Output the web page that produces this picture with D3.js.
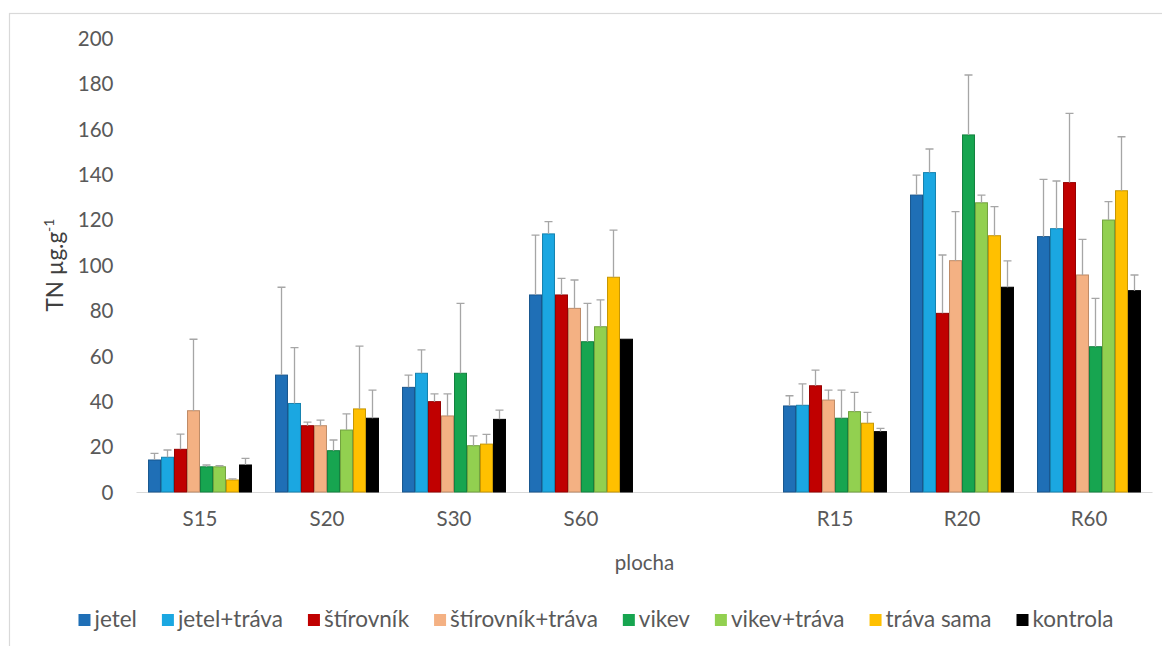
<!DOCTYPE html>
<html>
<head>
<meta charset="utf-8">
<script src="https://cdn.jsdelivr.net/npm/d3@7"></script>
<style>
  html, body { margin: 0; padding: 0; background: #ffffff; }
  svg { display: block; font-family: Lato, "Open Sans", "Liberation Sans", sans-serif; }
</style>
</head>
<body>
<svg id="chart" width="1162" height="646"></svg>
<script>
// Sampling sites (the empty entry leaves a gap between the S and R groups)
const categories = ["S15", "S20", "S30", "S60", "", "R15", "R20", "R60"];

// Treatments
const seriesNames = ["jetel", "jetel+tráva", "štírovník", "štírovník+tráva", "vikev", "vikev+tráva", "tráva sama", "kontrola"];
const seriesColors = ["#1f6fb6", "#1ba7e1", "#c00000", "#f4b183", "#17a550", "#92d050", "#ffc000", "#000000"];

// Mean TN (µg·g⁻¹) per site, one array per treatment
const jetel          = [14.1, 51.5, 46.1,  86.8, null, 37.9, 130.8, 112.5];
const jetelTrava     = [15.3, 39.0, 52.3, 113.7, null, 38.2, 140.7, 116.0];
const stirovnik      = [18.8, 29.2, 39.8,  86.8, null, 46.8,  78.7, 136.3];
const stirovnikTrava = [35.8, 29.2, 33.5,  80.9, null, 40.5, 101.9,  95.6];
const vikev          = [11.1, 18.2, 52.3,  66.2, null, 32.5, 157.3,  64.0];
const vikevTrava     = [11.1, 27.3, 20.4,  72.8, null, 35.4, 127.4, 119.8];
const travaSama      = [ 5.3, 36.6, 21.1,  94.6, null, 30.3, 112.9, 132.7];
const kontrola       = [11.9, 32.5, 32.0,  67.3, null, 26.6,  90.2,  88.7];

// Standard deviations (upper error bars)
const jetelSd          = [ 2.9, 38.7,  5.4, 26.4, null,  4.5,  8.8, 25.2];
const jetelTravaSd     = [ 3.2, 24.6, 10.3,  5.4, null,  9.4, 10.4, 21.0];
const stirovnikSd      = [ 6.7,  1.6,  3.4,  7.3, null,  6.9, 25.7, 30.5];
const stirovnikTravaSd = [31.5,  2.5,  9.7, 12.5, null,  4.4, 21.6, 15.7];
const vikevSd          = [ 0.8,  4.7, 30.8, 16.9, null, 12.4, 26.4, 21.3];
const vikevTravaSd     = [ 0.5,  7.1,  4.3, 11.8, null,  8.5,  3.4,  8.1];
const travaSamaSd      = [ 0.5, 27.7,  4.3, 20.8, null,  4.8, 12.8, 23.8];
const kontrolaSd       = [ 2.9, 12.4,  4.1,  0.0, null,  1.4, 11.6,  6.9];

const yTicks = [0, 20, 40, 60, 80, 100, 120, 140, 160, 180, 200];

const seriesValues = [jetel, jetelTrava, stirovnik, stirovnikTrava, vikev, vikevTrava, travaSama, kontrola];
const seriesErrors = [jetelSd, jetelTravaSd, stirovnikSd, stirovnikTravaSd, vikevSd, vikevTravaSd, travaSamaSd, kontrolaSd];

const svg = d3.select("#chart");
const W = 1162, H = 646;
const plot = { left: 136.5, right: 1152.5, top: 38, bottom: 492 };

// chart area frame
svg.append("rect")
  .attr("x", 9.5).attr("y", 13.5)
  .attr("width", W + 20).attr("height", H + 20)
  .attr("fill", "#ffffff").attr("stroke", "#d9d9d9").attr("stroke-width", 1.2);

const x0 = d3.scaleBand().domain(categories)
  .range([plot.left, plot.right]).paddingInner(0.173).paddingOuter(0.0865);
const x1 = d3.scaleBand().domain(seriesNames)
  .range([0, x0.bandwidth()]).padding(0.08);
const y = d3.scaleLinear().domain([0, 200]).range([plot.bottom, plot.top]);
const color = d3.scaleOrdinal().domain(seriesNames).range(seriesColors);

// y axis: labels only
const yAxis = d3.axisLeft(y).tickValues(yTicks).tickSize(0).tickPadding(0);
const gy = svg.append("g").attr("transform", `translate(${plot.left - 23},0)`).call(yAxis);
gy.select(".domain").remove();
gy.selectAll("text").attr("font-size", 20.5).attr("fill", "#595959")
  .attr("font-family", "Lato, 'Open Sans', sans-serif").attr("dy", "0.36em");

// x axis baseline and category labels
const xAxis = d3.axisBottom(x0).tickSize(0).tickPadding(0);
const gx = svg.append("g").attr("transform", `translate(0,${plot.bottom})`).call(xAxis);
gx.select(".domain").attr("stroke", "#d9d9d9").attr("stroke-width", 1.2)
  .attr("d", `M${plot.left},0.5H${plot.right}`);
gx.selectAll("text").attr("font-size", 20.5).attr("fill", "#595959")
  .attr("font-family", "Lato, 'Open Sans', sans-serif").attr("y", 34).attr("dy", 0);

// bars
const rows = [];
seriesNames.forEach((name, si) => {
  categories.forEach((cat, ci) => {
    const v = seriesValues[si][ci];
    if (v == null) return;
    rows.push({ name, cat, value: v, sd: seriesErrors[si][ci] });
  });
});

const barG = svg.append("g");
barG.selectAll("rect").data(rows).join("rect")
  .attr("x", d => x0(d.cat) + x1(d.name))
  .attr("y", d => y(d.value))
  .attr("width", x1.bandwidth())
  .attr("height", d => y(0) - y(d.value))
  .attr("fill", d => color(d.name))
  .attr("stroke", d => d3.color(color(d.name)).darker(0.7))
  .attr("stroke-width", 1);

// upper error bars
const errG = svg.append("g").attr("stroke", "#a6a6a6").attr("stroke-width", 1.3).attr("fill", "none");
const errRows = rows.filter(d => d.sd > 0);
errG.selectAll("path").data(errRows).join("path")
  .attr("d", d => {
    const cx = x0(d.cat) + x1(d.name) + x1.bandwidth() / 2;
    const top = y(d.value + d.sd), base = y(d.value);
    return `M${cx},${base}V${top}M${cx - 4},${top}H${cx + 4}`;
  });

// axis titles
const yTitle = svg.append("text")
  .attr("transform", `translate(63,${(plot.top + plot.bottom) / 2}) rotate(-90)`)
  .attr("text-anchor", "middle").attr("font-size", 22.5).attr("fill", "#404040");
yTitle.append("tspan").text("TN µg.g");
yTitle.append("tspan").attr("font-size", 14).attr("dy", -9).text("-1");

svg.append("text")
  .attr("x", (plot.left + plot.right) / 2).attr("y", 570)
  .attr("text-anchor", "middle").attr("font-size", 20.5).attr("fill", "#595959")
  .text("plocha");

// legend: entries laid out in a row and centred
const legendGap = 25;
const legend = svg.append("g").attr("font-size", 22.5).attr("fill", "#595959");
const items = legend.selectAll("g").data(seriesNames).join("g");
items.append("rect").attr("width", 12).attr("height", 12).attr("y", -13)
  .attr("fill", d => color(d));
items.append("text").attr("x", 16).attr("y", 0).attr("fill", "#595959").text(d => d);
let cursor = 0;
items.each(function () {
  const g = d3.select(this);
  const w = g.select("text").node().getComputedTextLength() + 16;
  g.attr("transform", `translate(${cursor},0)`);
  cursor += w + legendGap;
});
const total = cursor - legendGap;
legend.attr("transform", `translate(${596 - total / 2},627)`);
</script>
</body>
</html>
